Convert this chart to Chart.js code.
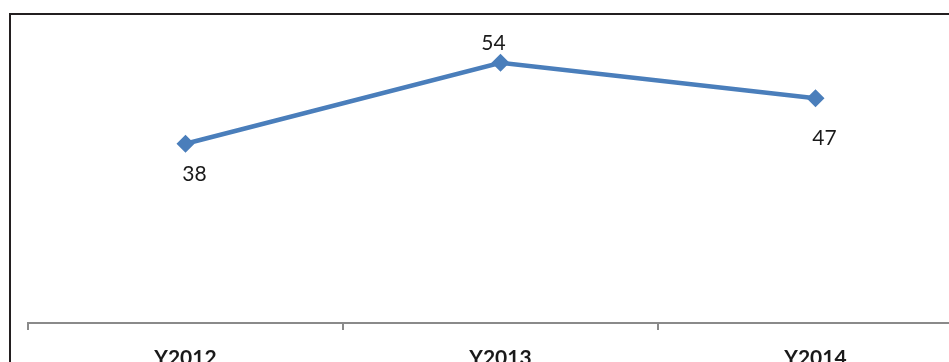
<!DOCTYPE html>
<html>
<head>
<meta charset="utf-8">
<script src="https://cdn.jsdelivr.net/npm/chart.js@4/dist/chart.umd.min.js"></script>
<style>
  html, body { margin: 0; padding: 0; background: #fff; overflow: hidden; }
  body { width: 949px; height: 362px; position: relative; }
  #wrap { position: absolute; left: 0; top: 0; width: 1000px; height: 363px; }
  #frame { position: absolute; left: 9px; top: 13px; width: 1100px; height: 500px;
           border: 2px solid #231f20; box-sizing: border-box; pointer-events: none; }
</style>
</head>
<body>
<div id="wrap"><canvas id="c" width="1000" height="363"></canvas></div>
<div id="frame"></div>
<script>
// Years on the category axis and the value for each year
const categories = ['Y2012', 'Y2013', 'Y2014'];
const values = [38, 54, 47];
// Where each value label sits relative to its point
const labelSide = ['below', 'above', 'below'];
const labelGap = [30, 20, 40];

const FONT = 'Lato, "Open Sans", sans-serif';

const valueLabels = {
  id: 'valueLabels',
  afterDatasetsDraw(chart) {
    const ctx = chart.ctx;
    const meta = chart.getDatasetMeta(0);
    ctx.save();
    ctx.font = '21px ' + FONT;
    ctx.fillStyle = '#1a1a1a';
    ctx.textAlign = 'center';
    ctx.textBaseline = 'middle';
    meta.data.forEach((pt, i) => {
      const up = labelSide[i] === 'above';
      const dy = up ? -labelGap[i] : labelGap[i];
      ctx.fillText(String(values[i]), pt.x + (up ? -7 : 9), pt.y + dy);
    });
    ctx.restore();
  }
};

new Chart(document.getElementById('c'), {
  type: 'line',
  data: {
    labels: categories,
    datasets: [{
      data: values,
      borderColor: '#4a7ebb',
      backgroundColor: '#4a7ebb',
      borderWidth: 4.5,
      pointStyle: 'rectRot',
      pointRadius: 9,
      pointHoverRadius: 9,
      pointBorderWidth: 0,
      tension: 0,
      fill: false
    }]
  },
  options: {
    responsive: false,
    animation: false,
    events: [],
    layout: { padding: { left: 28, right: 27, top: 32.4, bottom: 0 } },
    plugins: { legend: { display: false }, tooltip: { enabled: false } },
    scales: {
      x: {
        offset: true,
        afterFit(scale) { scale.height = 40; },
        border: { display: true, color: '#8a8a8a', width: 2 },
        grid: { display: true, offset: true, drawOnChartArea: false, drawTicks: true,
                tickLength: 7, color: '#8a8a8a', lineWidth: 2 },
        ticks: { color: '#1a1a1a', padding: 16, font: { family: FONT, size: 21, weight: 'bold' } }
      },
      y: {
        display: false,
        min: 2.6,
        max: 60
      }
    }
  },
  plugins: [valueLabels]
});
</script>
</body>
</html>
